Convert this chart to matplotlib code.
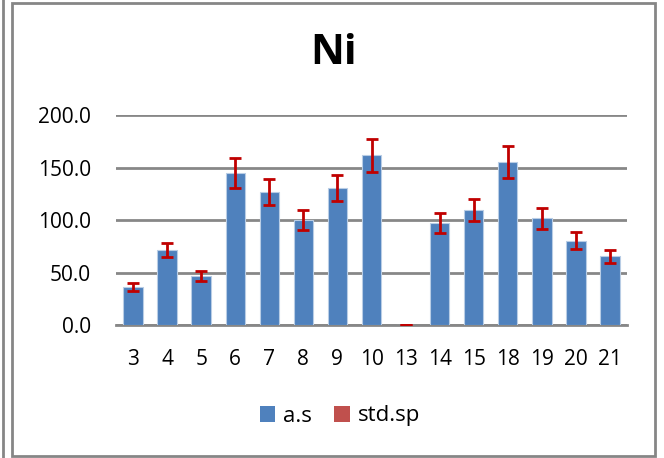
import numpy as np
import matplotlib
matplotlib.use("Agg")
import matplotlib.pyplot as plt
from matplotlib.patches import Patch, Rectangle
from matplotlib.lines import Line2D

categories = ["3", "4", "5", "6", "7", "8", "9", "10", "13", "14", "15", "18", "19", "20", "21"]
a_s = [36.2, 71.7, 47.0, 144.8, 126.7, 100.3, 130.5, 161.5, 0.0, 97.1, 109.8, 155.2, 101.9, 80.6, 65.7]
std_sp = [3.8, 7.0, 5.0, 14.0, 12.0, 9.5, 12.4, 16.0, 0.0, 9.5, 10.5, 15.0, 10.0, 8.0, 6.3]
y_ticks = [0, 50, 100, 150, 200]

plt.rcParams["font.family"] = ["Open Sans", "DejaVu Sans"]

fig = plt.figure(figsize=(6.64, 4.58), dpi=100)
ax = fig.add_axes([116 / 664, 1 - 325.3 / 458, (627 - 116) / 664, (325.3 - 115) / 458])

x = np.arange(len(categories))
ax.bar(x, a_s, width=0.57, color="#4F81BD", edgecolor="#B9CDE5", linewidth=0.8, zorder=3)
ax.errorbar(x, a_s, yerr=std_sp, fmt="none", ecolor="#C00000", elinewidth=2,
            capsize=4.5, capthick=2, zorder=4)

ax.set_xlim(-0.5, len(categories) - 0.5)
ax.set_ylim(0, 200)
ax.set_yticks(y_ticks)
ax.set_yticklabels([f"{v:.1f}" for v in y_ticks], fontsize=15)
ax.set_xticks(x)
ax.set_xticklabels(categories, fontsize=15)
ax.tick_params(axis="y", length=0, pad=18)
ax.tick_params(axis="x", length=0, pad=17)
ax.yaxis.grid(True, color="#878787", linewidth=2, zorder=0)
for s in ["top", "right", "left"]:
    ax.spines[s].set_visible(False)
ax.spines["bottom"].set_color("#878787")
ax.spines["bottom"].set_linewidth(2)

fig.text(334 / 664, 1 - 54 / 458, "Ni", fontsize=30, fontweight="bold",
         ha="center", va="center")

handles = [Patch(facecolor="#4F81BD", label="a.s"),
           Patch(facecolor="#C0504D", label="std.sp")]
fig.legend(handles=handles, loc="center", bbox_to_anchor=(340 / 664, 1 - 416 / 458),
           ncol=2, frameon=False, fontsize=16, handlelength=0.7, handleheight=0.7,
           handletextpad=0.35, columnspacing=1.0)

# chart border
fig.patches.append(Rectangle((12 / 664, 1 - 456 / 458), (655 - 12) / 664, (456 - 3) / 458,
                             transform=fig.transFigure, fill=False, edgecolor="#868686",
                             linewidth=2))
fig.lines.append(Line2D([3.5 / 664, 3.5 / 664], [0, 1], transform=fig.transFigure,
                        color="#868686", linewidth=2))

fig.savefig("out.png", dpi=100)
